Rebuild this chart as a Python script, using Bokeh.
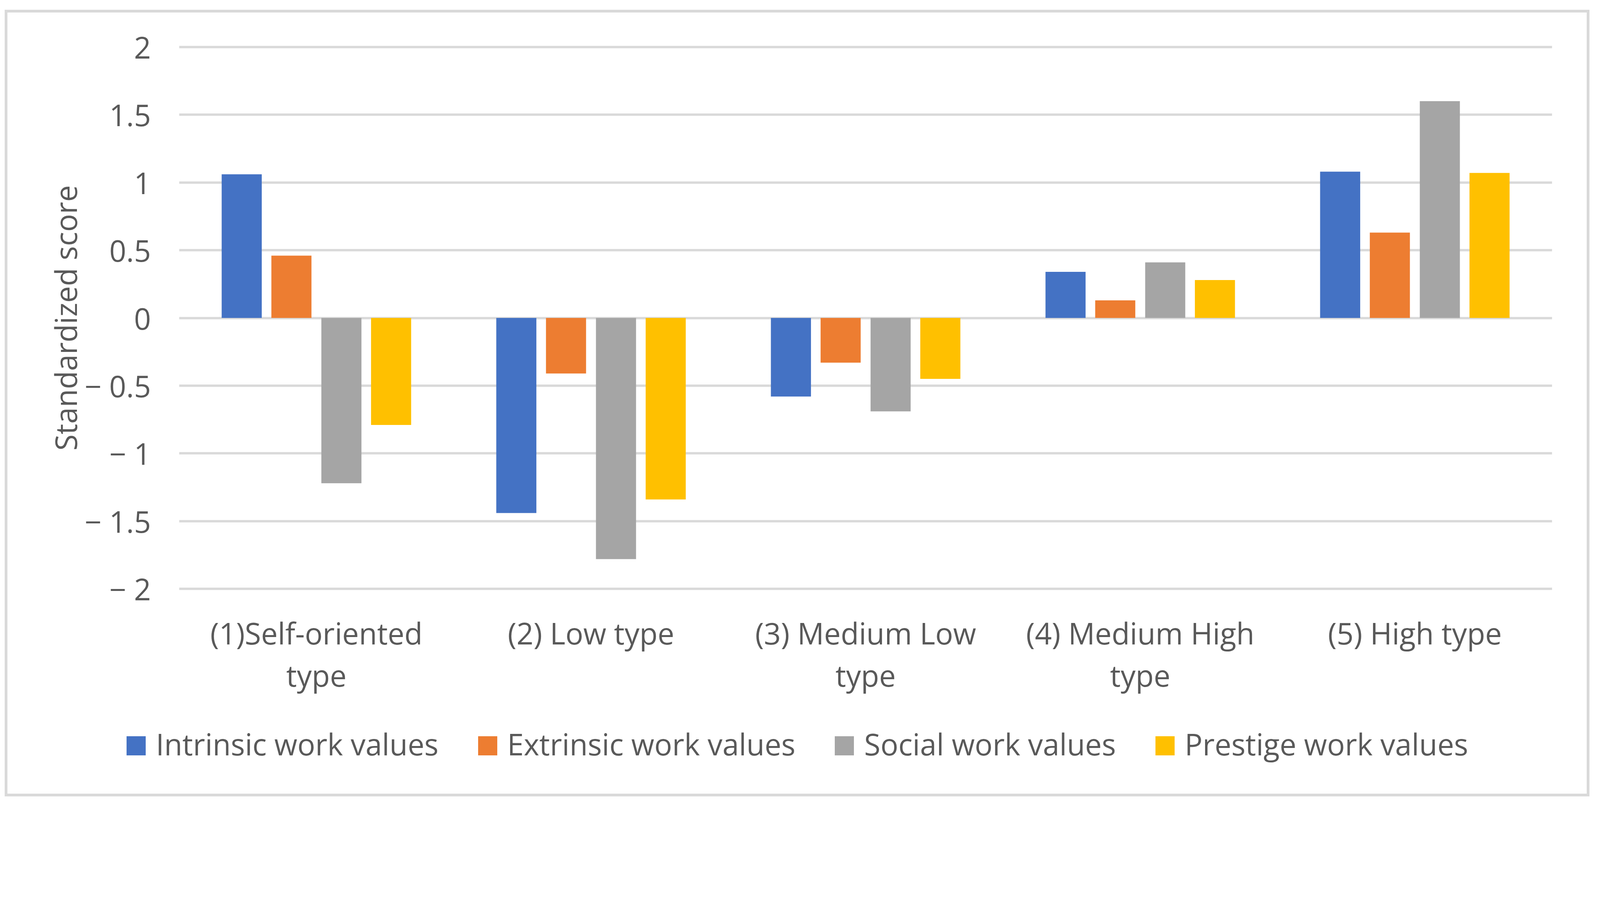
from bokeh.plotting import figure
from bokeh.models import ColumnDataSource, FactorRange, Range1d, FixedTicker, Div
from bokeh.layouts import column
from bokeh.transform import dodge
from bokeh.embed import file_html
from bokeh.resources import INLINE

# ---- data ----
categories = ["(1)Self-oriented\ntype", "(2) Low type", "(3) Medium Low\ntype",
              "(4) Medium High\ntype", "(5) High type"]
series_names = ["Intrinsic work values", "Extrinsic work values",
                "Social work values", "Prestige work values"]
intrinsic = [1.06, -1.44, -0.58, 0.34, 1.08]
extrinsic = [0.46, -0.41, -0.33, 0.13, 0.63]
social = [-1.22, -1.78, -0.69, 0.41, 1.60]
prestige = [-0.79, -1.34, -0.45, 0.28, 1.07]
y_ticks = [-2, -1.5, -1, -0.5, 0, 0.5, 1, 1.5, 2]
colors = ["#4472C4", "#ED7D31", "#A5A5A5", "#FFC000"]

source = ColumnDataSource(dict(cat=categories, intrinsic=intrinsic,
                               extrinsic=extrinsic, social=social,
                               prestige=prestige))

FONT = "Open Sans"
TXT = "#595959"
FS = "76px"

W = 4033
H1, H2 = 1790, 200
FL, FW = 439, 3515
FT, FH = 77, 1409
p = figure(x_range=FactorRange(*categories, range_padding=0),
           y_range=Range1d(-2.031, 2.031),
           width=W, height=H1, output_backend="svg", toolbar_location=None,
           min_border_left=FL, min_border_right=W - FL - FW,
           min_border_top=FT, min_border_bottom=H1 - FT - FH)
p.outline_line_color = None
p.background_fill_color = "white"
p.border_fill_color = "white"

cols = ["intrinsic", "extrinsic", "social", "prestige"]
offsets = [-0.272, -0.091, 0.091, 0.272]
for col, off, c in zip(cols, offsets, colors):
    p.vbar(x=dodge("cat", off, range=p.x_range), top=col, bottom=0,
           width=0.146, source=source, fill_color=c, line_color=None)

# grid
p.xgrid.grid_line_color = None
p.ygrid.grid_line_color = "#D9D9D9"
p.ygrid.grid_line_width = 6
p.ygrid.ticker = FixedTicker(ticks=y_ticks)

# y axis
ya = p.yaxis[0]
ya.ticker = FixedTicker(ticks=y_ticks)
overrides = {}
for t in y_ticks:
    s = ("%g" % abs(t))
    overrides[float(t)] = ("\u2212 " + s) if t < 0 else s
ya.major_label_overrides = overrides
ya.axis_line_color = None
ya.major_tick_line_color = None
ya.minor_tick_line_color = None
ya.major_tick_out = 0
ya.major_tick_in = 0
ya.major_label_standoff = 72
ya.major_label_text_font = FONT
ya.major_label_text_font_size = FS
ya.major_label_text_color = TXT
ya.axis_label = "Standardized score"
ya.axis_label_text_font = FONT
ya.axis_label_text_font_size = FS
ya.axis_label_text_font_style = "normal"
ya.axis_label_text_color = TXT
ya.axis_label_standoff = -6

# x axis
xa = p.xaxis[0]
xa.axis_line_color = None
xa.major_tick_line_color = None
xa.minor_tick_line_color = None
xa.major_tick_out = 0
xa.major_tick_in = 0
xa.major_label_standoff = 50
xa.major_label_text_font = FONT
xa.major_label_text_font_size = FS
xa.major_label_text_color = TXT
xa.major_label_text_line_height = 1.05
xa.major_label_orientation = "horizontal"

# legend strip (HTML, below the plot, built from the series names and colours)
items_html = "".join(
    '<span style="display:inline-block;width:49px;height:49px;'
    'background:%s;margin-right:26px;"></span>'
    '<span style="margin-right:101px;">%s</span>' % (c, n)
    for n, c in zip(series_names, colors))
legend_html = ('<div style="font-family:\'Open Sans\';font-size:76px;'
               'color:#595959;line-height:1;white-space:nowrap;'
               'padding-left:300px;padding-top:40px;">%s</div>' % items_html)
legend_div = Div(text=legend_html, width=W, height=H2,
                 styles={"background-color": "white"})

layout = column(p, legend_div, spacing=0)
layout.styles = {"margin-left": "12px", "margin-top": "25px",
                 "border": "7px solid #D9D9D9", "box-sizing": "content-box",
                 "background-color": "white"}

open("out.html", "w").write(file_html(layout, INLINE))
